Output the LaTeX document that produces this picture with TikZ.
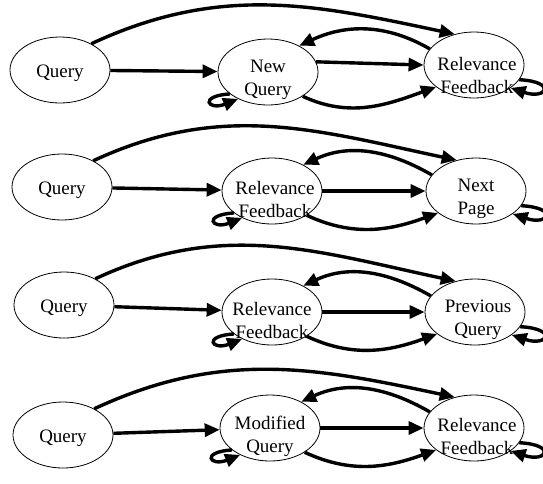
\documentclass[tikz,border=0pt]{standalone}
\usepackage{fontspec}
\setmainfont{Liberation Serif}
\usetikzlibrary{shapes.geometric,arrows.meta}

\tikzset{
  oval/.style={ellipse, draw, line width=0.8pt, minimum width=100pt, minimum height=66pt, inner sep=0pt},
  txt/.style={align=center, inner sep=0pt, font=\fontsize{19}{23}\selectfont},
  arr/.style={-{Triangle[length=15pt,width=13pt]}, line width=3.4pt},
}

\begin{document}
\begin{tikzpicture}[x=1pt,y=1pt]
    \useasboundingbox (0,-483) rectangle (543,0);

    % Row 1: New Query
    \node[oval] (q1) at (60,-70) {};
    \node[oval] (m1) at (268,-72) {};
    \node[oval] (r1) at (474,-65) {};
    \node[txt] (q1t) at ([yshift=-3pt]q1.center) {Query};
    \node[txt] (m1t) at ([yshift=-8pt]m1.center) {New\\Query};
    \node[txt] (r1t) at ([xshift=3pt,yshift=-10pt]r1.center) {Relevance\\Feedback};
    \draw[arr] (q1) -- (m1);
    \draw[arr] (q1.40) to[out=25,in=168] (r1.122);
    \draw[arr] (r1.160) to[out=150,in=25] (m1.40);
    \draw[arr] (m1.12) -- (r1.west);
    \draw[arr] (m1.-35) to[out=-25,in=-160] (r1.-150);
    \draw[arr] (m1.210) .. controls +(-32,-2) and +(-30,-12) .. (m1.222);
    \draw[arr] (r1.-18) .. controls +(38,-2) and +(36,-12) .. (r1.-32);

    % Row 2: Next Page
    \node[oval] (q2) at (62,-187) {};
    \node[oval] (m2) at (272,-191) {};
    \node[oval] (r2) at (476,-191) {};
    \node[txt] (q2t) at ([yshift=-3pt]q2.center) {Query};
    \node[txt] (m2t) at ([xshift=3pt,yshift=-8pt]m2.center) {Relevance\\Feedback};
    \node[txt] (r2t) at ([yshift=-8pt]r2.center) {Next\\Page};
    \draw[arr] (q2) -- (m2);
    \draw[arr] (q2.40) to[out=25,in=168] (r2.122);
    \draw[arr] (r2.160) to[out=150,in=25] (m2.40);
    \draw[arr] (m2) -- (r2);
    \draw[arr] (m2.-35) to[out=-25,in=-160] (r2.-150);
    \draw[arr] (m2.210) .. controls +(-32,-2) and +(-30,-12) .. (m2.222);
    \draw[arr] (r2.-18) .. controls +(38,-2) and +(36,-12) .. (r2.-32);

    % Row 3: Previous Query
    \node[oval] (q3) at (64,-305) {};
    \node[oval] (m3) at (272,-312) {};
    \node[oval] (r3) at (475,-312) {};
    \node[txt] (q3t) at ([yshift=-3pt]q3.center) {Query};
    \node[txt] (m3t) at ([yshift=-8pt]m3.center) {Relevance\\Feedback};
    \node[txt] (r3t) at ([xshift=3pt,yshift=-8pt]r3.center) {Previous\\Query};
    \draw[arr] (q3) -- (m3);
    \draw[arr] (q3.40) to[out=25,in=168] (r3.122);
    \draw[arr] (r3.160) to[out=150,in=25] (m3.40);
    \draw[arr] (m3) -- (r3);
    \draw[arr] (m3.-35) to[out=-25,in=-160] (r3.-150);
    \draw[arr] (m3.210) .. controls +(-32,-2) and +(-30,-12) .. (m3.222);
    \draw[arr] (r3.-18) .. controls +(38,-2) and +(36,-12) .. (r3.-32);

    % Row 4: Modified Query
    \node[oval] (q4) at (63,-435) {};
    \node[oval] (m4) at (270,-428) {};
    \node[oval] (r4) at (474,-428) {};
    \node[txt] (q4t) at ([yshift=-3pt]q4.center) {Query};
    \node[txt] (m4t) at ([yshift=-8pt]m4.center) {Modified\\Query};
    \node[txt] (r4t) at ([xshift=3pt,yshift=-8pt]r4.center) {Relevance\\Feedback};
    \draw[arr] (q4) -- (m4);
    \draw[arr] (q4.40) to[out=25,in=168] (r4.122);
    \draw[arr] (r4.160) to[out=150,in=25] (m4.40);
    \draw[arr] (m4) -- (r4);
    \draw[arr] (m4.-35) to[out=-25,in=-160] (r4.-150);
    \draw[arr] (m4.210) .. controls +(-32,-2) and +(-30,-12) .. (m4.222);
    \draw[arr] (r4.-18) .. controls +(38,-2) and +(36,-12) .. (r4.-32);
\end{tikzpicture}
\end{document}
